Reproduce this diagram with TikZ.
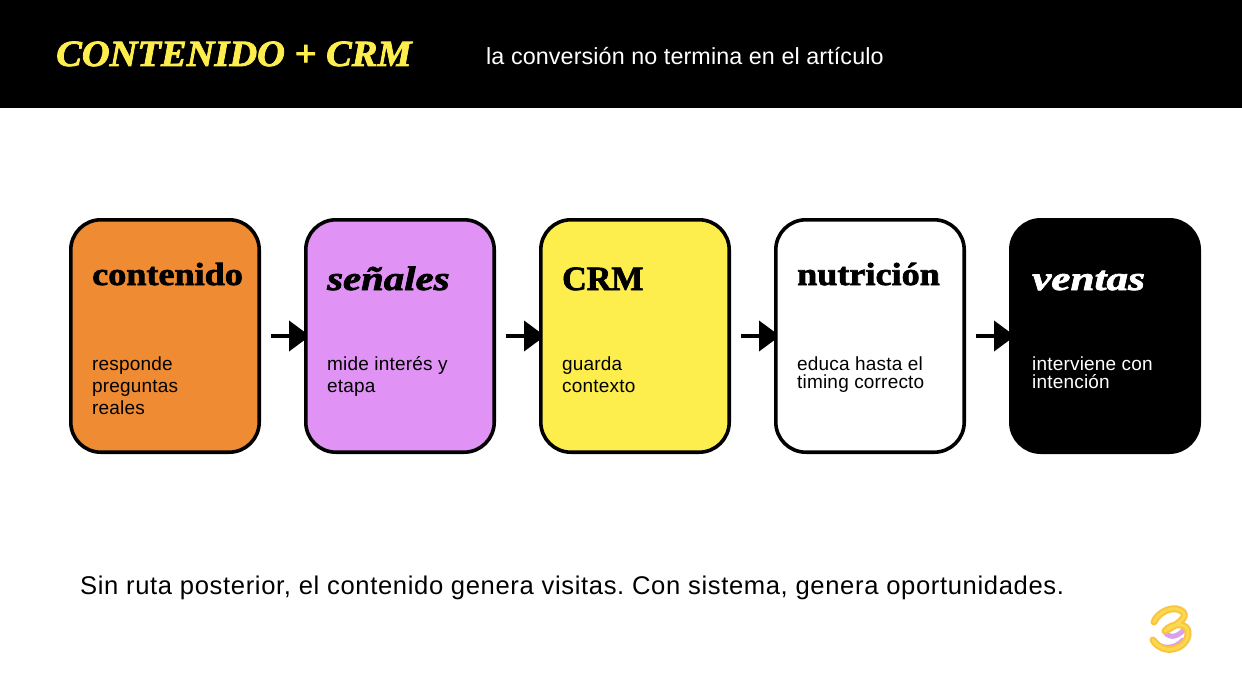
\documentclass[tikz,border=0pt]{standalone}
\usepackage{fontspec}
\setmainfont[LetterSpace=1.0]{Liberation Sans}
\newfontfamily\subfont[LetterSpace=0.5]{Liberation Sans}
\newfontfamily\footfont[LetterSpace=2.5]{Liberation Sans}
\newfontfamily\boldserif[FakeBold=2.2,FakeStretch=1.13]{Liberation Serif Bold}
\newfontfamily\crmserif[FakeBold=2.2,FakeStretch=1.0]{Liberation Serif Bold}
\newfontfamily\headserif[FakeBold=2.2,FakeStretch=1.04]{Liberation Serif Bold Italic}
\newfontfamily\itserif[FakeBold=2.2,FakeStretch=1.2]{Liberation Serif Bold Italic}
\newfontfamily\itwide[FakeBold=2.2,FakeStretch=1.27]{Liberation Serif Bold Italic}
\usetikzlibrary{arrows.meta,backgrounds}
\definecolor{brandyellow}{HTML}{FDEE4D}
\definecolor{cardorange}{HTML}{EF8B33}
\definecolor{cardviolet}{HTML}{E092F5}
\definecolor{logoamber}{HTML}{F9C440}
\definecolor{logolight}{HTML}{FCD84E}
\definecolor{logoviolet}{HTML}{D9A0EE}
\tikzset{
  x=1pt,y=-1pt,
  card/.style={draw=black,line width=3.6pt,rounded corners=30pt,minimum width=188.4pt,minimum height=232.4pt,inner sep=0pt,anchor=north west},
  cardtitle/.style={anchor=base west,inner sep=0pt,font=\boldserif\fontsize{32}{34}\selectfont},
  carditalic/.style={anchor=base west,inner sep=0pt,font=\itserif\fontsize{34}{36}\selectfont},
  cardbody/.style={anchor=base west,inner sep=0pt,align=left,font=\fontsize{19}{22}\selectfont},
  cardtight/.style={cardbody,font=\fontsize{19}{18}\selectfont},
  flow/.style={line width=4pt,-{Triangle[length=21pt,width=30pt]},shorten <=10pt,shorten >=-6pt}
}
\begin{document}
\frenchspacing
\begin{tikzpicture}
\useasboundingbox (0,0) rectangle (1242,690);
\begin{pgfonlayer}{background}
\fill[white] (0,0) rectangle (1242,690);
\end{pgfonlayer}
\fill[black] (0,0) rectangle (1242,108);
\node[anchor=base west,inner sep=0pt,text=brandyellow,font=\headserif\fontsize{37}{40}\selectfont] (title) at (56,66) {CONTENIDO + CRM};
\node[anchor=base west,inner sep=0pt,text=white,font=\subfont\fontsize{23.3}{26}\selectfont] (subtitle) at (486,65) {la conversión no termina en el artículo};

\node[card,fill=cardorange] (c1) at (69,218) {};
\node[card,fill=cardviolet] (c2) at (304,218) {};
\node[card,fill=brandyellow] (c3) at (539,218) {};
\node[card,fill=white] (c4) at (774,218) {};
\node[card,fill=black] (c5) at (1009,218) {};

\node[cardtitle] (t1) at (92,285) {contenido};
\node[carditalic] (t2) at (327,290) {señales};
\node[cardtitle,font=\crmserif\fontsize{34}{38}\selectfont] (t3) at (562,290) {CRM};
\node[cardtitle] (t4) at (797,285) {nutrición};
\node[carditalic,text=white,font=\itwide\fontsize{34}{36}\selectfont] (t5) at (1032,290) {ventas};

\node[cardbody] (b1) at (92,414) {responde\\preguntas\\reales};
\node[cardbody] (b2) at (327,392) {mide interés y\\etapa};
\node[cardbody] (b3) at (562,392) {guarda\\contexto};
\node[cardtight] (b4) at (797,388) {educa hasta el\\timing correcto};
\node[cardtight,text=white] (b5) at (1032,388) {interviene con\\intención};

\begin{pgfonlayer}{background}
\draw[flow] (c1) -- (c2);
\draw[flow] (c2) -- (c3);
\draw[flow] (c3) -- (c4);
\draw[flow] (c4) -- (c5);
\end{pgfonlayer}

\node[anchor=base west,inner sep=0pt,font=\footfont\fontsize{25.6}{28}\selectfont] (foot) at (80,594) {Sin ruta posterior, el contenido genera visitas. Con sistema, genera oportunidades.};

% logo
\draw[draw=logoviolet,line width=5pt,line cap=round] (1156,643) .. controls (1164,650) and (1176,648) .. (1183,640);
\draw[draw=logoviolet,line width=5pt,line cap=round] (1165,632) .. controls (1170,640) and (1180,636) .. (1186,627);
\foreach \w/\c in {7/logoamber,3/logolight}{
\draw[draw=\c,line width=\w pt,line cap=round,line join=round]
  (1154,622) .. controls (1158,612) and (1172,606) .. (1180,610)
  .. controls (1190,615) and (1182,622) .. (1165,631)
  .. controls (1172,622) and (1190,622) .. (1188,635)
  .. controls (1187,648) and (1164,657) .. (1153,640);
}
\end{tikzpicture}
\end{document}
